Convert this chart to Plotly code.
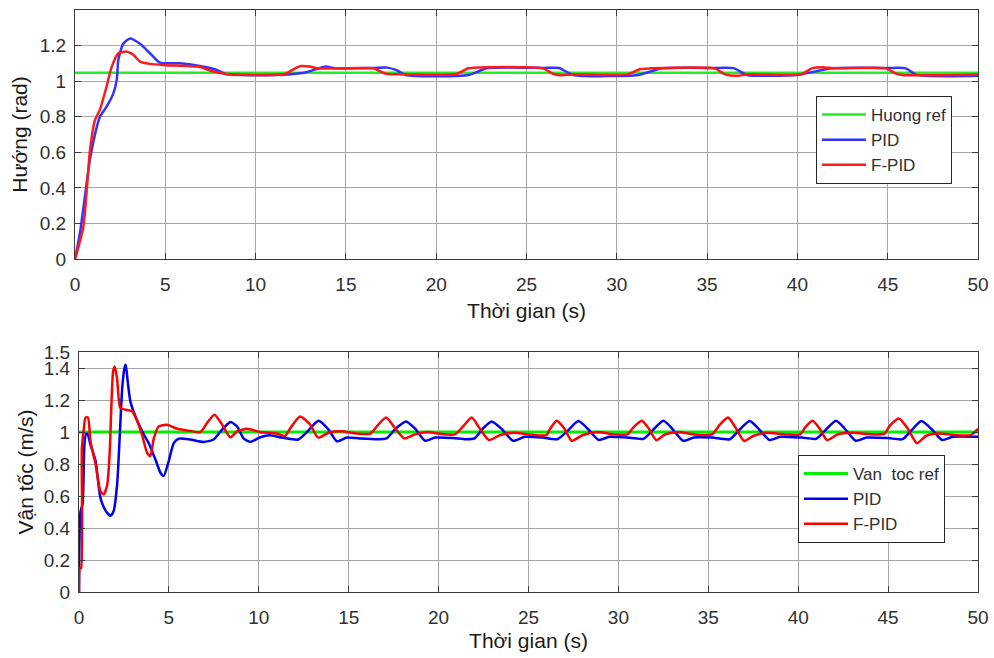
import plotly.graph_objects as go

# ---------------- Heading response (rad) ----------------
heading_ref = 1.047  # pi/3
t_head_pid = [0.00, 0.28, 0.83, 1.20, 1.38, 1.75, 2.12, 2.31, 2.40, 2.67, 3.05, 3.60, 4.15, 4.70,
              5.80, 6.90, 7.85, 8.40, 11.80, 12.80, 13.50, 13.90, 14.40, 16.50, 17.30, 17.80,
              18.30, 21.80, 22.80, 26.00, 26.80, 27.60, 31.20, 32.50, 35.40, 36.50, 37.20,
              40.00, 41.90, 45.00, 46.00, 46.60, 50.00]
v_head_pid = [0.00, 0.15, 0.56, 0.74, 0.80, 0.857, 0.93, 1.007, 1.12, 1.21, 1.24, 1.21, 1.157, 1.104,
              1.10, 1.085, 1.063, 1.038, 1.038, 1.050, 1.072, 1.082, 1.072, 1.074, 1.076, 1.062,
              1.035, 1.035, 1.072, 1.074, 1.074, 1.035, 1.035, 1.072, 1.074, 1.072, 1.035,
              1.035, 1.072, 1.074, 1.072, 1.035, 1.030]

t_head_fpid = [0.00, 0.46, 0.83, 1.10, 1.38, 1.75, 2.03, 2.40, 2.86, 3.23, 3.60, 4.15, 5.00,
               6.90, 7.66, 8.40, 11.60, 12.20, 12.50, 13.00, 13.40, 16.50, 17.20, 18.50, 21.10,
               21.80, 25.90, 26.50, 27.00, 27.50, 30.60, 31.30, 31.90, 35.40, 36.00, 36.70,
               37.20, 40.20, 40.80, 41.40, 42.00, 44.90, 45.40, 45.80, 50.00]
v_head_fpid = [0.00, 0.18, 0.61, 0.78, 0.84, 0.97, 1.08, 1.157, 1.166, 1.148, 1.11, 1.097, 1.09,
               1.08, 1.054, 1.040, 1.040, 1.072, 1.085, 1.082, 1.072, 1.072, 1.042, 1.038, 1.040,
               1.072, 1.072, 1.040, 1.033, 1.038, 1.038, 1.068, 1.072, 1.072, 1.038, 1.030,
               1.038, 1.038, 1.072, 1.078, 1.072, 1.072, 1.045, 1.035, 1.038]

# ---------------- Speed response (m/s) ----------------
speed_ref = 1.0
t_speed_pid = [0.00, 0.08, 0.20, 0.30, 0.40, 0.50, 0.64, 0.92, 1.19, 1.47, 1.75, 1.93, 2.12, 2.27,
               2.40, 2.53, 2.60, 2.71, 2.86, 3.14, 3.51, 3.88, 4.25, 4.53, 4.71, 4.99, 5.27,
               5.55, 6.19, 6.93, 7.49, 7.96, 8.42, 8.79, 9.16, 9.53, 10.08, 10.60, 11.30, 12.20,
               12.68, 13.32, 13.88, 14.34, 14.90, 15.60, 16.60, 17.10, 17.60, 18.19, 18.70,
               19.25, 19.80, 20.80, 21.50, 22.00, 22.45, 22.95, 23.50, 24.15, 24.80, 25.80,
               26.60, 27.20, 27.77, 28.30, 28.90, 29.50, 30.50, 31.40, 31.90, 32.50, 33.00,
               33.60, 34.20, 35.20, 36.20, 36.70, 37.30, 37.80, 38.40, 39.00, 40.20, 41.00,
               41.50, 42.10, 42.60, 43.20, 43.80, 45.00, 45.80, 46.30, 46.85, 47.40, 48.00,
               48.60, 50.00]
v_speed_pid = [0.00, 0.50, 0.55, 0.92, 0.99, 0.98, 0.92, 0.82, 0.59, 0.51, 0.476, 0.507, 0.673,
               0.984, 1.27, 1.40, 1.42, 1.315, 1.19, 1.097, 1.004, 0.93, 0.828, 0.745, 0.725,
               0.818, 0.93, 0.959, 0.953, 0.938, 0.953, 1.015, 1.062, 1.035, 0.959, 0.938,
               0.967, 0.98, 0.965, 0.953, 1.00, 1.07, 1.015, 0.942, 0.965, 0.96, 0.955, 0.96,
               1.02, 1.066, 1.02, 0.945, 0.965, 0.963, 0.955, 0.96, 1.02, 1.066, 1.02, 0.945,
               0.97, 0.965, 0.955, 1.01, 1.068, 1.02, 0.95, 0.97, 0.965, 0.958, 1.01, 1.07,
               1.02, 0.945, 0.965, 0.965, 0.955, 1.01, 1.068, 1.02, 0.95, 0.97, 0.965, 0.958,
               1.01, 1.07, 1.02, 0.945, 0.965, 0.962, 0.955, 1.01, 1.068, 1.02, 0.95, 0.97, 0.97]

t_speed_fpid = [0.00, 0.05, 0.12, 0.16, 0.25, 0.36, 0.50, 0.64, 0.92, 1.19, 1.38, 1.57, 1.71,
                1.79, 1.90, 1.99, 2.12, 2.30, 2.58, 2.95, 3.23, 3.51, 3.79, 3.97, 4.16, 4.43,
                4.90, 5.46, 6.00, 6.75, 7.12, 7.53, 7.96, 8.42, 8.79, 9.34, 10.08, 11.00, 11.45,
                11.76, 12.30, 12.86, 13.30, 13.97, 14.60, 15.50, 16.20, 16.60, 17.08, 17.60,
                18.10, 18.70, 19.40, 20.00, 20.90, 21.40, 21.84, 22.30, 22.80, 23.40, 24.20,
                25.00, 26.00, 26.20, 26.57, 27.00, 27.40, 28.00, 28.80, 29.80, 30.50, 30.85,
                31.30, 31.70, 32.10, 32.60, 33.30, 34.20, 35.20, 35.60, 36.10, 36.50, 37.00,
                37.50, 38.20, 39.30, 40.10, 40.40, 40.80, 41.20, 41.60, 42.20, 43.00, 44.20,
                44.80, 45.10, 45.60, 46.10, 46.60, 47.10, 47.80, 48.80, 49.60, 50.00]
v_speed_fpid = [0.00, 0.15, 0.15, 0.90, 1.00, 1.09, 1.09, 0.94, 0.80, 0.63, 0.61, 0.67, 0.88,
                1.13, 1.38, 1.41, 1.33, 1.15, 1.14, 1.13, 1.07, 0.98, 0.87, 0.85, 0.96, 1.035,
                1.045, 1.02, 1.01, 1.00, 1.056, 1.108, 1.046, 0.967, 1.004, 1.02, 1.00, 0.99,
                0.975, 1.025, 1.097, 1.046, 0.965, 1.00, 1.005, 0.99, 0.99, 1.04, 1.09, 1.02,
                0.96, 0.985, 1.00, 0.99, 0.985, 1.04, 1.09, 1.02, 0.95, 0.98, 0.995, 0.985,
                0.98, 1.02, 1.07, 1.02, 0.945, 0.98, 1.00, 0.985, 0.985, 1.03, 1.07, 1.02, 0.95,
                0.985, 1.00, 0.985, 0.985, 1.04, 1.09, 1.03, 0.944, 0.975, 0.995, 0.985, 0.985,
                1.03, 1.07, 1.02, 0.95, 0.985, 0.995, 0.985, 0.99, 1.04, 1.085, 1.02, 0.93,
                0.975, 0.99, 0.98, 0.98, 1.02]

x_ticks = [0, 5, 10, 15, 20, 25, 30, 35, 40, 45, 50]
head_yticks = [0, 0.2, 0.4, 0.6, 0.8, 1.0, 1.2]
speed_yticks = [0, 0.2, 0.4, 0.6, 0.8, 1.0, 1.2, 1.4, 1.5]

W, H = 994, 658
FONT = "Liberation Sans, Arial, sans-serif"
TXT = "#303030"
GRID = "#a6a6a6"
AX = "#3a3a3a"

fig = go.Figure()

smooth = dict(shape="spline", smoothing=0.6)

fig.add_trace(go.Scatter(x=[0, 50], y=[heading_ref, heading_ref], mode="lines", name="Huong ref",
                         line=dict(color="#22ee22", width=2.5), xaxis="x", yaxis="y", legend="legend"))
fig.add_trace(go.Scatter(x=t_head_pid, y=v_head_pid, mode="lines", name="PID",
                         line=dict(color="#3333ff", width=2.5, **smooth), xaxis="x", yaxis="y",
                         legend="legend"))
fig.add_trace(go.Scatter(x=t_head_fpid, y=v_head_fpid, mode="lines", name="F-PID",
                         line=dict(color="#ff1a1a", width=2.5, **smooth), xaxis="x", yaxis="y",
                         legend="legend"))

fig.add_trace(go.Scatter(x=[0, 50], y=[speed_ref, speed_ref], mode="lines", name="Van  toc ref",
                         line=dict(color="#00ee00", width=3), xaxis="x2", yaxis="y2", legend="legend2"))
fig.add_trace(go.Scatter(x=t_speed_pid, y=v_speed_pid, mode="lines", name="PID",
                         line=dict(color="#0000ee", width=2.5, **smooth), xaxis="x2", yaxis="y2",
                         legend="legend2"))
fig.add_trace(go.Scatter(x=t_speed_fpid, y=v_speed_fpid, mode="lines", name="F-PID",
                         line=dict(color="#ff0000", width=2.5, **smooth), xaxis="x2", yaxis="y2",
                         legend="legend2"))


def px_x(p):
    return p / W


def px_y(p):
    return 1 - p / H


common_axis = dict(showgrid=True, gridcolor=GRID, gridwidth=1, showline=True, linecolor=AX,
                   linewidth=1, mirror="allticks", ticks="inside", ticklen=6, tickcolor=AX,
                   zeroline=False, automargin=False, ticklabeloverflow="allow",
                   tickfont=dict(family=FONT, size=19, color=TXT))
title_font = dict(family=FONT, size=21, color="#1a1a1a")
legend_style = dict(xanchor="left", yanchor="top", bgcolor="white", bordercolor="#262626",
                    borderwidth=1, itemwidth=44, font=dict(family=FONT, size=17, color=TXT))

fig.update_layout(
    width=W, height=H, margin=dict(l=0, r=0, t=0, b=0, autoexpand=False),
    paper_bgcolor="white", plot_bgcolor="white",
    font=dict(family=FONT, color=TXT),
    xaxis=dict(common_axis, domain=[px_x(75), px_x(978)], range=[0, 50], tickvals=x_ticks,
               anchor="y", ticklabelstandoff=8,
               title=dict(text="Thời gian (s)", font=title_font, standoff=9)),
    yaxis=dict(common_axis, domain=[px_y(259), px_y(10)], range=[0, 1.4], tickvals=head_yticks,
               anchor="x", ticklabelstandoff=4,
               title=dict(text="Hướng (rad)", font=title_font, standoff=6)),
    xaxis2=dict(common_axis, domain=[px_x(79), px_x(978)], range=[0, 50], tickvals=x_ticks,
                anchor="y2", ticklabelstandoff=8,
                title=dict(text="Thời gian (s)", font=title_font, standoff=6)),
    yaxis2=dict(common_axis, domain=[px_y(592), px_y(352)], range=[0, 1.5], tickvals=speed_yticks,
                anchor="x2", ticklabelstandoff=4,
                title=dict(text="Vận tốc (m/s)", font=title_font, standoff=4)),
    legend=dict(legend_style, x=px_x(816), y=px_y(96)),
    legend2=dict(legend_style, x=px_x(798), y=px_y(455)),
)

fig.write_html("out.html")
